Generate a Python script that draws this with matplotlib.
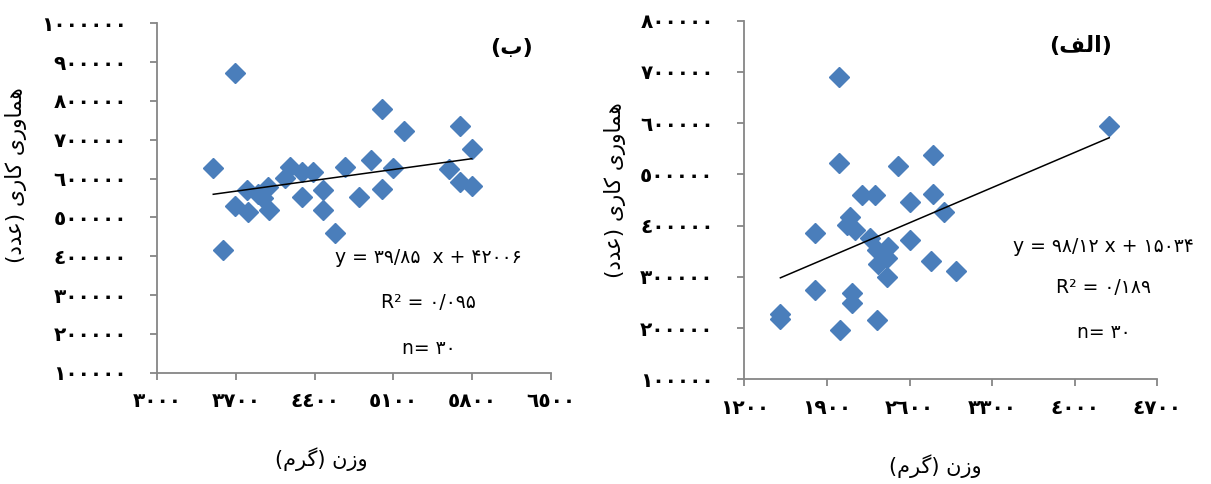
import matplotlib
matplotlib.use('Agg')
import matplotlib.pyplot as plt
import numpy as np

# --- داده‌ها: پنل (ب) ---
weight_b = [3498, 3585, 3692, 3691, 3796, 3810, 3900, 3943, 3988, 3997,
            4136, 4181, 4285, 4285, 4388, 4477, 4477, 4581, 4670, 4793,
            4900, 5003, 5003, 5100, 5196, 5598, 5689, 5689, 5798, 5798]
count_b = [627000, 415000, 873000, 528000, 571000, 515000, 560000, 549000, 579000, 519000,
           601000, 631000, 618000, 553000, 618000, 571000, 519000, 459000, 631000, 553000,
           649000, 780000, 573000, 627000, 722000, 625000, 735000, 590000, 677000, 582000]
fit_b = (39.85, 420060)

# --- داده‌ها: پنل (الف) ---
weight_a = [1506, 1506, 1799, 1799, 1999, 1999, 2011, 2096, 2068, 2138,
            2110, 2110, 2196, 2304, 2265, 2322, 2420, 2406, 2335, 2406,
            2322, 2501, 2600, 2600, 2797, 2797, 2780, 2896, 2994, 4292]
count_a = [228000, 218000, 385000, 274000, 691000, 522000, 196000, 417000, 401000, 391000,
           268000, 248000, 459000, 459000, 375000, 352000, 359000, 336000, 326000, 300000,
           216000, 517000, 446000, 372000, 538000, 462000, 331000, 426000, 311000, 595000]
fit_a = (98.12, 150340)

xticks_b = [3000, 3700, 4400, 5100, 5800, 6500]
yticks_b = [100000, 200000, 300000, 400000, 500000, 600000, 700000, 800000, 900000, 1000000]
xticks_a = [1200, 1900, 2600, 3300, 4000, 4700]
yticks_a = [100000, 200000, 300000, 400000, 500000, 600000, 700000, 800000]

eq_b = ['y = ۳۹/۸۵  x + ۴۲۰۰۶', 'R² = ۰/۰۹۵', 'n= ۳۰']
eq_a = ['y = ۹۸/۱۲ x + ۱۵۰۳۴', 'R² = ۰/۱۸۹', 'n= ۳۰']

xlabel = 'وزن (گرم)'
ylabel = 'هماوری کاری (عدد)'

ARABIC_DIGITS = str.maketrans('0123456789', '٠١٢٣٤٥٦٧٨٩')

# شکل حروف: (تنها، پایانی، آغازی، میانی)
FORMS = {
    'ا': ('\uFE8D', '\uFE8E', None, None),
    'ب': ('\uFE8F', '\uFE90', '\uFE91', '\uFE92'),
    'د': ('\uFEA9', '\uFEAA', None, None),
    'ر': ('\uFEAD', '\uFEAE', None, None),
    'ز': ('\uFEAF', '\uFEB0', None, None),
    'ع': ('\uFEC9', '\uFECA', '\uFECB', '\uFECC'),
    'ف': ('\uFED1', '\uFED2', '\uFED3', '\uFED4'),
    'ل': ('\uFEDD', '\uFEDE', '\uFEDF', '\uFEE0'),
    'م': ('\uFEE1', '\uFEE2', '\uFEE3', '\uFEE4'),
    'ن': ('\uFEE5', '\uFEE6', '\uFEE7', '\uFEE8'),
    'ه': ('\uFEE9', '\uFEEA', '\uFEEB', '\uFEEC'),
    'و': ('\uFEED', '\uFEEE', None, None),
    'ک': ('\uFB8E', '\uFB8F', '\uFB90', '\uFB91'),
    'گ': ('\uFB92', '\uFB93', '\uFB94', '\uFB95'),
    'ی': ('\uFBFC', '\uFBFD', '\uFBFE', '\uFBFF'),
}


def shape(text):
    """اتصال حروف فارسی و برگرداندن ترتیب برای نمایش راست به چپ"""
    out = []
    for i, ch in enumerate(text):
        if ch not in FORMS:
            out.append(ch)
            continue
        prev = text[i - 1] if i > 0 else ''
        nxt = text[i + 1] if i + 1 < len(text) else ''
        join_prev = prev in FORMS and FORMS[prev][2] is not None
        join_next = nxt in FORMS and FORMS[ch][2] is not None
        iso, fin, ini, med = FORMS[ch]
        if join_prev and join_next:
            out.append(med)
        elif join_prev:
            out.append(fin)
        elif join_next:
            out.append(ini)
        else:
            out.append(iso)
    return ''.join(reversed(out)).translate(str.maketrans('()', ')('))


plt.rcParams['font.family'] = ['DejaVu Sans']

fig = plt.figure(figsize=(12.11, 4.84), dpi=100)
ax_b = fig.add_axes([0.1299, 0.230, 0.3248, 0.722])
ax_a = fig.add_axes([0.6146, 0.2163, 0.3411, 0.741])

# (محور، x، y، خط روند، تیک‌ها، معادله، برچسب، مکان برچسب‌ها)
panels = [
    (ax_b, weight_b, count_b, fit_b, xticks_b, yticks_b, '(ب)', 0.955, 0.417, 0.564),
    (ax_a, weight_a, count_a, fit_a, xticks_a, yticks_a, '(الف)', 0.89, 0.462, 0.527),
]

for ax, xs, ys, fit, xt, yt, tag, tag_x, xl_x, yl_y in panels:
    ax.plot(xs, ys, linestyle='none', marker='D', markersize=10.5,
            color='#4A7EBB', markeredgecolor='#4A7EBB')
    x_line = np.array([min(xs), max(xs)])
    ax.plot(x_line, fit[0] * x_line + fit[1], color='black', linewidth=1.1)

    ax.set_xlim(xt[0], xt[-1])
    ax.set_ylim(yt[0], yt[-1])
    ax.set_xticks(xt)
    ax.set_yticks(yt)
    ax.set_xticklabels([str(v).translate(ARABIC_DIGITS) for v in xt],
                       fontsize=14.5, fontweight='bold')
    ax.set_yticklabels([str(v).translate(ARABIC_DIGITS) for v in yt],
                       fontsize=14.5, fontweight='bold')

    for side in ['top', 'right']:
        ax.spines[side].set_visible(False)
    for side in ['left', 'bottom']:
        ax.spines[side].set_color('#868686')
        ax.spines[side].set_linewidth(1.3)
    ax.tick_params(direction='out', length=5, width=1.3, color='#868686')
    ax.tick_params(axis='x', pad=9)
    ax.tick_params(axis='y', pad=17)

    ax.set_xlabel(shape(xlabel), fontsize=15, labelpad=26, x=xl_x)
    ax.set_ylabel(shape(ylabel), fontsize=15.5, labelpad=10, y=yl_y)

    ax.text(tag_x, 0.93, shape(tag), transform=ax.transAxes,
            ha='right', va='center', fontsize=16, fontweight='bold')

# متن معادله‌ها
ax_b.text(0.69, 0.33, eq_b[0], transform=ax_b.transAxes, ha='center', va='center', fontsize=13.5)
ax_b.text(0.69, 0.20, eq_b[1], transform=ax_b.transAxes, ha='center', va='center', fontsize=13.5)
ax_b.text(0.69, 0.07, eq_b[2], transform=ax_b.transAxes, ha='center', va='center', fontsize=13.5)
ax_a.text(0.87, 0.37, eq_a[0], transform=ax_a.transAxes, ha='center', va='center', fontsize=13.5)
ax_a.text(0.87, 0.255, eq_a[1], transform=ax_a.transAxes, ha='center', va='center', fontsize=13.5)
ax_a.text(0.87, 0.13, eq_a[2], transform=ax_a.transAxes, ha='center', va='center', fontsize=13.5)

fig.savefig('out.png', dpi=100, facecolor='white')
